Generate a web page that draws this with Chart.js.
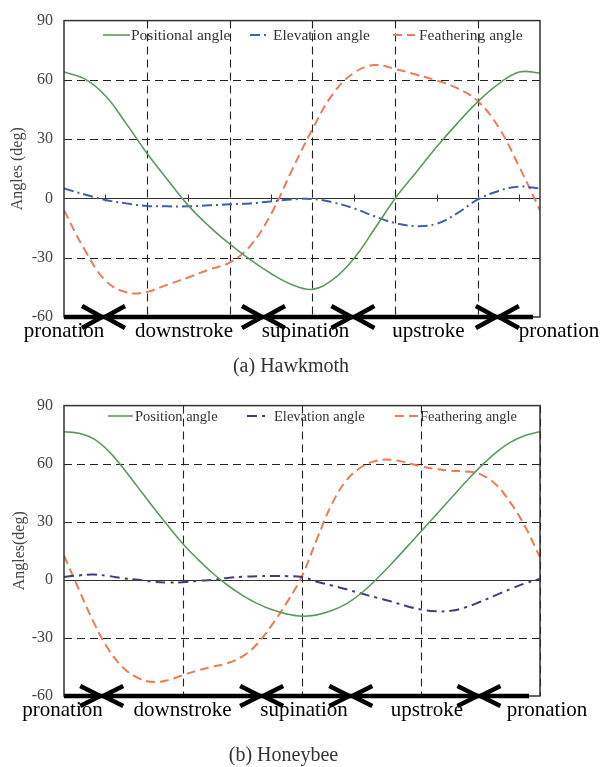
<!DOCTYPE html>
<html><head><meta charset="utf-8">
<script src="https://cdn.jsdelivr.net/npm/chart.js@4.4.1/dist/chart.umd.min.js"></script>
<style>
html,body{margin:0;padding:0;background:#fff;}
#wrap{position:relative;width:602px;height:767px;overflow:hidden;font-family:'Liberation Serif','Times New Roman',serif;}
.cv{position:absolute;left:0;}
.lbl{position:absolute;font-size:21px;line-height:21px;white-space:nowrap;color:#000;transform:translateX(-50%);}
.cap{position:absolute;font-size:20px;line-height:20px;white-space:nowrap;color:#333;transform:translateX(-50%);}
</style></head>
<body><div id="wrap">
<div class="cv" style="top:0;"><canvas id="c1" width="602" height="385"></canvas></div>
<div class="cv" style="top:385px;"><canvas id="c2" width="602" height="382"></canvas></div>
</div>
<script>
// ---------- DATA ----------
// (a) Hawkmoth: x in stroke-time units (axis spans 0 .. 11.5)
const hawkX          = [0, 0.5, 1, 1.5, 2, 2.5, 3, 3.5, 4, 4.5, 5, 5.5, 6, 6.5, 7, 7.5, 8, 8.5, 9, 9.5, 10, 10.5, 11, 11.5];
const hawkPositional = [64, 60.5, 52, 38, 23, 9.5, -3.5, -14, -23, -31, -38, -43.5, -46, -41, -30.5, -15.5, 0, 13, 26, 38, 49, 58, 64, 63.5];
const hawkElevation  = [5, 2, -0.8, -2.5, -3.8, -4, -4, -3.5, -3, -2.5, -1.5, -0.5, -0.3, -2, -5, -9, -12.5, -14, -12.8, -7.5, -0.5, 3.8, 6, 5];
const hawkFeathering = [-6, -26, -41.5, -47.5, -47.3, -43.6, -40, -36, -32.5, -24, -8, 14, 35, 53, 63.5, 67.5, 65.5, 62.7, 59.7, 55.8, 49.2, 36, 16, -6];

// (b) Honeybee: x in stroke-time units (axis spans 0 .. 4)
const beeX          = [0, 0.125, 0.25, 0.375, 0.5, 0.625, 0.75, 0.875, 1, 1.125, 1.25, 1.375, 1.5, 1.625, 1.75, 1.875, 2, 2.125, 2.25, 2.375, 2.5, 2.625, 2.75, 2.875, 3, 3.125, 3.25, 3.375, 3.5, 3.625, 3.75, 3.875, 4];
const beePosition   = [76.5, 75.7, 72.8, 66.5, 57.5, 47.5, 37.5, 27.8, 18.5, 10.6, 3.4, -2.8, -8, -12.3, -15.5, -17.7, -18.8, -18.1, -15.9, -12.3, -6.8, 0.3, 8.2, 16.5, 25, 33.5, 42, 50.5, 58.5, 65.5, 71, 74.5, 76.5];
const beeElevation  = [1.5, 2.3, 2.7, 2, 0.8, 0, -1, -1.4, -1.2, -0.5, 0, 1, 1.6, 1.9, 2, 1.9, 1.5, -1, -2.9, -4.9, -7.1, -9.2, -11.2, -13.5, -15.3, -16.2, -16, -14.2, -11.3, -8, -4.8, -1.8, 0.5];
const beeFeathering = [12.5, -5, -22, -36, -45.5, -50.8, -52.8, -51.8, -49.2, -46.8, -44.9, -43, -39.5, -33, -23, -11.5, 2, 21, 39, 51.5, 58.3, 61.5, 62, 60.6, 58.6, 57.2, 56.4, 56, 54.5, 49.5, 40, 27.5, 11.7];

const yTicks = [-60, -30, 0, 30, 60, 90];
const hawkNames = ['Positional angle', 'Elevation angle', 'Feathering angle'];
const beeNames  = ['Position angle', 'Elevation angle', 'Feathering angle'];
const phaseNames = ['pronation', 'downstroke', 'supination', 'upstroke', 'pronation'];
const hawkPhaseBounds = [0.954, 4.82, 6.98, 10.47];
const hawkPhaseEnd = 11.33;
const beePhaseBounds = [0.317, 1.661, 2.41, 3.487];
const beePhaseEnd = 3.908;
const captions = ['(a) Hawkmoth', '(b) Honeybee'];

// ---------- HELPERS ----------
const pts = (xs, ys) => xs.map((x, i) => ({x: x, y: ys[i]}));
const FONT = "'Liberation Serif', 'Times New Roman', serif";

const decor = {
  id: 'decor',
  beforeDatasetsDraw(chart, args, o) {
    const {ctx, chartArea: a, scales: {x, y}} = chart;
    ctx.save();
    const seg = (x1, y1, x2, y2) => { ctx.beginPath(); ctx.moveTo(x1, y1); ctx.lineTo(x2, y2); ctx.stroke(); };
    ctx.strokeStyle = '#222'; ctx.lineWidth = 1.1; ctx.setLineDash([8, 5]);
    o.gridY.forEach(v => { const p = Math.round(y.getPixelForValue(v)) + 0.5; seg(a.left, p, a.right, p); });
    o.gridX.forEach(v => { const p = Math.round(x.getPixelForValue(v)) + 0.5; seg(p, a.top, p, a.bottom); });
    ctx.setLineDash([]);
    ctx.strokeStyle = '#333'; ctx.lineWidth = 1;
    const y0 = Math.round(y.getPixelForValue(0)) + 0.5;
    seg(a.left, y0, a.right, y0);
    o.tickX.forEach(v => { const p = Math.round(x.getPixelForValue(v)) + 0.5; seg(p, y0 - 4, p, y0 + 3); });
    ctx.restore();
  },
  afterDraw(chart, args, o) {
    const {ctx, chartArea: a, scales: {x}} = chart;
    ctx.save();
    const seg = (x1, y1, x2, y2) => { ctx.beginPath(); ctx.moveTo(x1, y1); ctx.lineTo(x2, y2); ctx.stroke(); };
    // frame
    ctx.strokeStyle = '#333'; ctx.lineWidth = 1.5;
    ctx.strokeRect(a.left, a.top, a.right - a.left, a.bottom - a.top);
    // phase arrows along bottom
    const yb = a.bottom;
    ctx.strokeStyle = '#000'; ctx.lineWidth = 4.5; ctx.lineCap = 'butt'; ctx.lineJoin = 'miter';
    seg(x.getPixelForValue(0), yb, x.getPixelForValue(o.arrowEnd), yb);
    o.arrows.forEach(v => {
      const p = x.getPixelForValue(v);
      ctx.beginPath(); ctx.moveTo(p - 1.5 - o.aw, yb - o.ah); ctx.lineTo(p - 1.5, yb); ctx.lineTo(p - 1.5 - o.aw, yb + o.ah); ctx.stroke();
      ctx.beginPath(); ctx.moveTo(p + 1.5 + o.aw, yb - o.ah); ctx.lineTo(p + 1.5, yb); ctx.lineTo(p + 1.5 + o.aw, yb + o.ah); ctx.stroke();
    });
    // legend
    ctx.font = o.legendSize + 'px ' + FONT;
    ctx.textBaseline = 'middle';
    chart.data.datasets.forEach((ds, i) => {
      const L = o.legend[i];
      ctx.strokeStyle = ds.borderColor; ctx.lineWidth = ds.borderWidth;
      ctx.setLineDash(ds.borderDash || []);
      seg(L.x1, o.legendY, L.x2, o.legendY);
      ctx.setLineDash([]);
      ctx.fillStyle = '#333';
      ctx.fillText(ds.label, L.tx, o.legendY + 1);
    });
    ctx.restore();
  }
};

function makeChart(id, cfg) {
  return new Chart(document.getElementById(id), {
    type: 'line',
    data: { datasets: cfg.datasets },
    plugins: [decor],
    options: {
      responsive: false, animation: false, devicePixelRatio: 1,
      layout: { padding: { left: 0, right: 62, top: cfg.padTop, bottom: cfg.padBottom } },
      elements: { point: { radius: 0 }, line: { tension: 0.4, borderCapStyle: 'butt' } },
      plugins: { legend: { display: false }, tooltip: { enabled: false }, decor: cfg.decor },
      scales: {
        x: { type: 'linear', min: 0, max: cfg.xMax, display: false },
        y: {
          type: 'linear', min: yTicks[0], max: yTicks[yTicks.length - 1],
          afterFit: s => { s.width = 64; },
          afterBuildTicks: s => { s.ticks = yTicks.map(v => ({value: v})); },
          grid: { display: false, drawTicks: false },
          border: { display: false },
          ticks: { padding: 11, color: '#444', font: { family: FONT, size: 16 } },
          title: { display: true, text: cfg.yTitle, color: '#444', font: { family: FONT, size: 16 }, padding: { top: cfg.titlePad, bottom: 0 } }
        }
      }
    }
  });
}

makeChart('c1', {
  xMax: 11.5, padTop: 14, padBottom: 68, yTitle: 'Angles (deg)', titlePad: 8.5,
  datasets: [
    { label: hawkNames[0], data: pts(hawkX, hawkPositional), borderColor: '#5c9a5e', borderWidth: 1.6, fill: false },
    { label: hawkNames[1], data: pts(hawkX, hawkElevation), borderColor: '#3f5fae', borderWidth: 2, borderDash: [10, 4, 2, 4], fill: false },
    { label: hawkNames[2], data: pts(hawkX, hawkFeathering), borderColor: '#ef7a5c', borderWidth: 2, borderDash: [9, 5], fill: false }
  ],
  decor: {
    gridY: [60, 30, -30], gridX: [2, 4, 6, 8, 10], tickX: [1, 3, 5, 7, 9, 11],
    arrows: hawkPhaseBounds, arrowEnd: hawkPhaseEnd, aw: 20, ah: 11,
    legendY: 35, legendSize: 15.5,
    legend: [{x1: 103, x2: 130, tx: 131}, {x1: 250, x2: 270, tx: 273}, {x1: 393, x2: 415, tx: 419}]
  }
});

makeChart('c2', {
  xMax: 4, padTop: 17, padBottom: 71, yTitle: 'Angles(deg)', titlePad: 10,
  datasets: [
    { label: beeNames[0], data: pts(beeX, beePosition), borderColor: '#5c9a5e', borderWidth: 1.6, fill: false },
    { label: beeNames[1], data: pts(beeX, beeElevation), borderColor: '#3c3f78', borderWidth: 2, borderDash: [10, 5, 3, 5], fill: false },
    { label: beeNames[2], data: pts(beeX, beeFeathering), borderColor: '#ef7b50', borderWidth: 2, borderDash: [9, 5], fill: false }
  ],
  decor: {
    gridY: [60, 30, -30], gridX: [1, 2, 3, 4], tickX: [],
    arrows: beePhaseBounds, arrowEnd: beePhaseEnd, aw: 20, ah: 10,
    legendY: 31, legendSize: 14.5,
    legend: [{x1: 108, x2: 133, tx: 135}, {x1: 247, x2: 270, tx: 274}, {x1: 395, x2: 418, tx: 420}]
  }
});

// ---------- TEXT LABELS ----------
const wrap = document.getElementById('wrap');
function addText(cls, text, cx, top) {
  const d = document.createElement('div');
  d.className = cls; d.textContent = text;
  d.style.left = cx + 'px'; d.style.top = top + 'px';
  wrap.appendChild(d);
}
const hawkPhaseCenters = [64, 184, 305.5, 428.5, 559];
const beePhaseCenters  = [62.5, 182.5, 304, 427, 547];
phaseNames.forEach((t, i) => addText('lbl', t, hawkPhaseCenters[i], 319.5));
phaseNames.forEach((t, i) => addText('lbl', t, beePhaseCenters[i], 699));
addText('cap', captions[0], 291, 355);
addText('cap', captions[1], 283.5, 744);
</script>
</body></html>
